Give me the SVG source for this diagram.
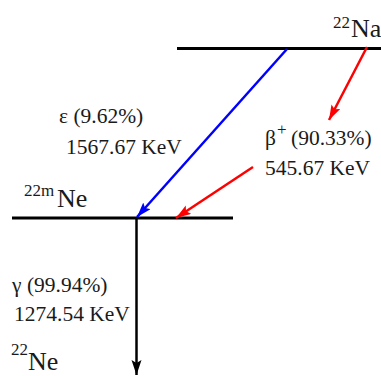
<svg xmlns="http://www.w3.org/2000/svg" width="381" height="376" viewBox="0 0 381 376">
<style>
text{font-family:"Liberation Serif","DejaVu Serif","Times New Roman",serif;fill:#1a1a1a}
.t{font-size:21.5px}
.iso{font-size:26px}
.sup{font-size:17px}
.lvl{stroke:#000;stroke-width:3}
</style>
<defs>
<marker id="ab" markerUnits="userSpaceOnUse" markerWidth="16" markerHeight="12" refX="15" refY="5" orient="auto"><path d="M0,0 L15,5 L0,10 L3,5 z" fill="#0000ff"/></marker>
<marker id="ar" markerUnits="userSpaceOnUse" markerWidth="16" markerHeight="12" refX="15" refY="5" orient="auto"><path d="M0,0 L15,5 L0,10 L3,5 z" fill="#ff0000"/></marker>
<marker id="ak" markerUnits="userSpaceOnUse" markerWidth="16" markerHeight="12" refX="15" refY="5" orient="auto"><path d="M0,0 L15,5 L0,10 L3,5 z" fill="#000"/></marker>
</defs>
<g id="na22">
<line class="lvl" x1="177" y1="48.5" x2="381" y2="48.5"/>
<text class="sup" font-family="Liberation Serif, serif" x="333" y="28">22</text>
<text class="iso" font-family="Liberation Serif, serif" x="351" y="37">Na</text>
</g>
<g id="ne22m">
<line class="lvl" x1="12" y1="218" x2="233" y2="218"/>
<text class="sup" font-family="Liberation Serif, serif" x="24" y="196">22m</text>
<text class="iso" font-family="Liberation Serif, serif" x="57" y="207">Ne</text>
</g>
<g id="ne22">
<text class="sup" font-family="Liberation Serif, serif" x="11" y="355">22</text>
<text class="iso" font-family="Liberation Serif, serif" x="28" y="370">Ne</text>
</g>
<g id="connectors">
<line x1="287" y1="49" x2="137" y2="217" stroke="#0000ff" stroke-width="2.5" marker-end="url(#ab)"/>
<line x1="367" y1="47" x2="329" y2="120" stroke="#ff0000" stroke-width="2.5" marker-end="url(#ar)"/>
<line x1="253" y1="167" x2="176" y2="218" stroke="#ff0000" stroke-width="2.5" marker-end="url(#ar)"/>
<line x1="136.5" y1="218" x2="136.5" y2="375" stroke="#000" stroke-width="2.5" marker-end="url(#ak)"/>
</g>
<g id="labels" font-family="Liberation Serif, serif">
<text class="t" x="59" y="123">ε (9.62%)</text>
<text class="t" x="66" y="154">1567.67 KeV</text>
<text class="t" x="265" y="145">β</text>
<text class="sup" x="277" y="135">+</text>
<text class="t" x="291" y="145">(90.33%)</text>
<text class="t" x="265" y="175">545.67 KeV</text>
<text class="t" x="12" y="292">γ (99.94%)</text>
<text class="t" x="14" y="321">1274.54 KeV</text>
</g>
</svg>
